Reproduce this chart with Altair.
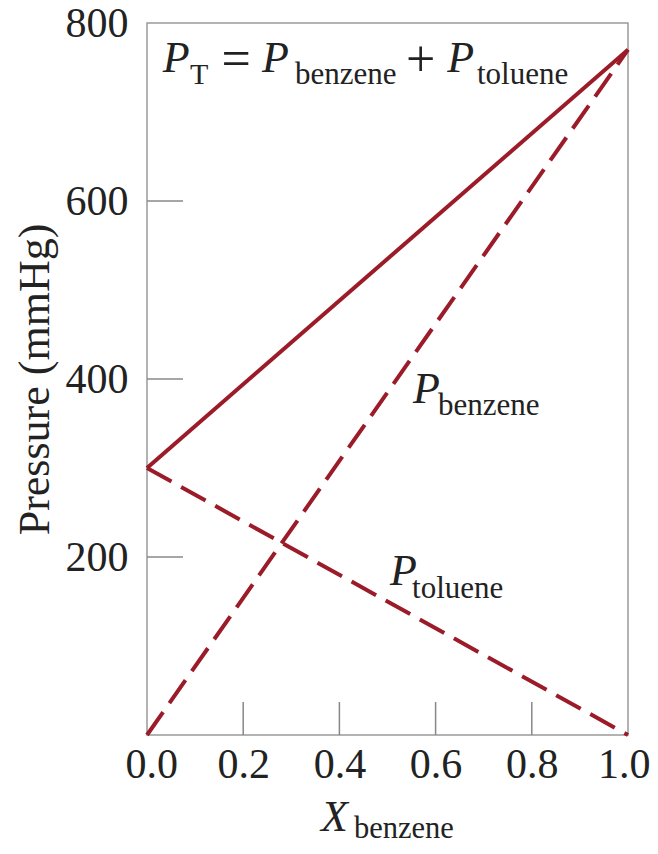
import altair as alt
import pandas as pd

# ---- data ----
x_benzene = [0.0, 1.0]
p_benzene = [0, 770]
p_toluene = [300, 0]
p_total = [300, 770]

x_tick_marks = [0.2, 0.4, 0.6, 0.8]
y_tick_marks = [200, 400, 600]
x_tick_labels = [0.0, 0.2, 0.4, 0.6, 0.8, 1.0]
y_tick_labels = [200, 400, 600, 800]

ann_text = ["P", "T", "=", "P", "benzene", "+", "P", "toluene",
            "P", "benzene", "P", "toluene"]
ann_x = [0.033, 0.0895, 0.155, 0.239, 0.3077, 0.5385, 0.624, 0.686,
         0.553, 0.605, 0.505, 0.551]
ann_y = [745, 731.5, 740.4, 745, 731.5, 740.4, 745, 731.5,
         373, 359.6, 168.5, 154]
ann_kind = ["main", "subT", "op", "main", "sub", "op", "main", "sub",
            "main", "sub", "main", "sub"]

W, H = 481, 712
RED = "#9b1c28"
FONT = "Liberation Serif"
INK = "#222"

rows = []
for i, x in enumerate(x_benzene):
    rows.append({"x": x, "p": p_benzene[i], "series": "benzene"})
    rows.append({"x": x, "p": p_toluene[i], "series": "toluene"})
    rows.append({"x": x, "p": p_total[i], "series": "total"})
df = pd.DataFrame(rows)

xscale = alt.Scale(domain=[0, 1], nice=False, zero=False)
yscale = alt.Scale(domain=[0, 800], nice=False)

xaxis = alt.Axis(values=x_tick_labels, format=".1f", ticks=False, domain=False,
                 grid=False, labelFont=FONT, labelFontSize=42, labelColor=INK,
                 labelPadding=9, title=None, labelFlush=True,
                 labelFlushOffset=22)
yaxis = alt.Axis(values=y_tick_labels, ticks=False, domain=False, grid=False,
                 labelFont=FONT, labelFontSize=42, labelColor=INK,
                 labelPadding=19, title="Pressure (mmHg)", titleFont=FONT,
                 titleFontSize=44, titleFontWeight="normal", titleColor=INK,
                 titleX=-112, titleY=H / 2, titleAngle=270, titleAlign="center",
                 titleBaseline="middle", labelFlush=False)

base = alt.Chart(df)

solid = base.transform_filter(alt.datum.series == "total").mark_line(
    color=RED, strokeWidth=4, clip=False
).encode(x=alt.X("x:Q", scale=xscale, axis=xaxis),
         y=alt.Y("p:Q", scale=yscale, axis=yaxis))

dashed = base.transform_filter(alt.datum.series != "total").mark_line(
    color=RED, strokeWidth=4, strokeDash=[28, 11], clip=False
).encode(x=alt.X("x:Q", scale=xscale), y=alt.Y("p:Q", scale=yscale),
         detail="series:N")

xt = alt.Chart(pd.DataFrame({"v": x_tick_marks})).mark_rule(
    color="#888", strokeWidth=1.5
).encode(x=alt.X("v:Q", scale=xscale), y=alt.value(H), y2=alt.value(H - 33))

yt = alt.Chart(pd.DataFrame({"v": y_tick_marks})).mark_rule(
    color="#888", strokeWidth=1.5
).encode(y=alt.Y("v:Q", scale=yscale), x=alt.value(0), x2=alt.value(36))

ann = pd.DataFrame({"t": ann_text, "x": ann_x, "y": ann_y, "k": ann_kind})


def ann_layer(kind, size, style="normal"):
    return alt.Chart(ann).transform_filter(alt.datum.k == kind).mark_text(
        font=FONT, fontSize=size, fontStyle=style, align="left",
        baseline="alphabetic", color=INK
    ).encode(x=alt.X("x:Q", scale=xscale), y=alt.Y("y:Q", scale=yscale),
             text="t:N")


ann_main = ann_layer("main", 44, "italic")
ann_op = ann_layer("op", 52)
ann_sub = ann_layer("sub", 31)
ann_subT = ann_layer("subT", 30)

xtitle_main = alt.Chart(pd.DataFrame({"t": ["X"]})).mark_text(
    font=FONT, fontSize=44, fontStyle="italic", align="left", baseline="alphabetic",
    color=INK, clip=False
).encode(x=alt.value(174), y=alt.value(808), text="t:N")
xtitle_sub = alt.Chart(pd.DataFrame({"t": ["benzene"]})).mark_text(
    font=FONT, fontSize=30.5, align="left", baseline="alphabetic",
    color=INK, clip=False
).encode(x=alt.value(207), y=alt.value(815), text="t:N")

chart = alt.layer(
    xt, yt, solid, dashed, ann_main, ann_op, ann_sub, ann_subT,
    xtitle_main, xtitle_sub
).properties(
    width=W, height=H,
    autosize=alt.AutoSizeParams(type="none"),
    padding={"left": 139, "top": 15, "right": 22, "bottom": 110},
    background="white",
).configure_view(stroke="#9a9a9a", strokeWidth=1.5)

chart.save("out.html", embed_options={"renderer": "svg", "actions": False})
